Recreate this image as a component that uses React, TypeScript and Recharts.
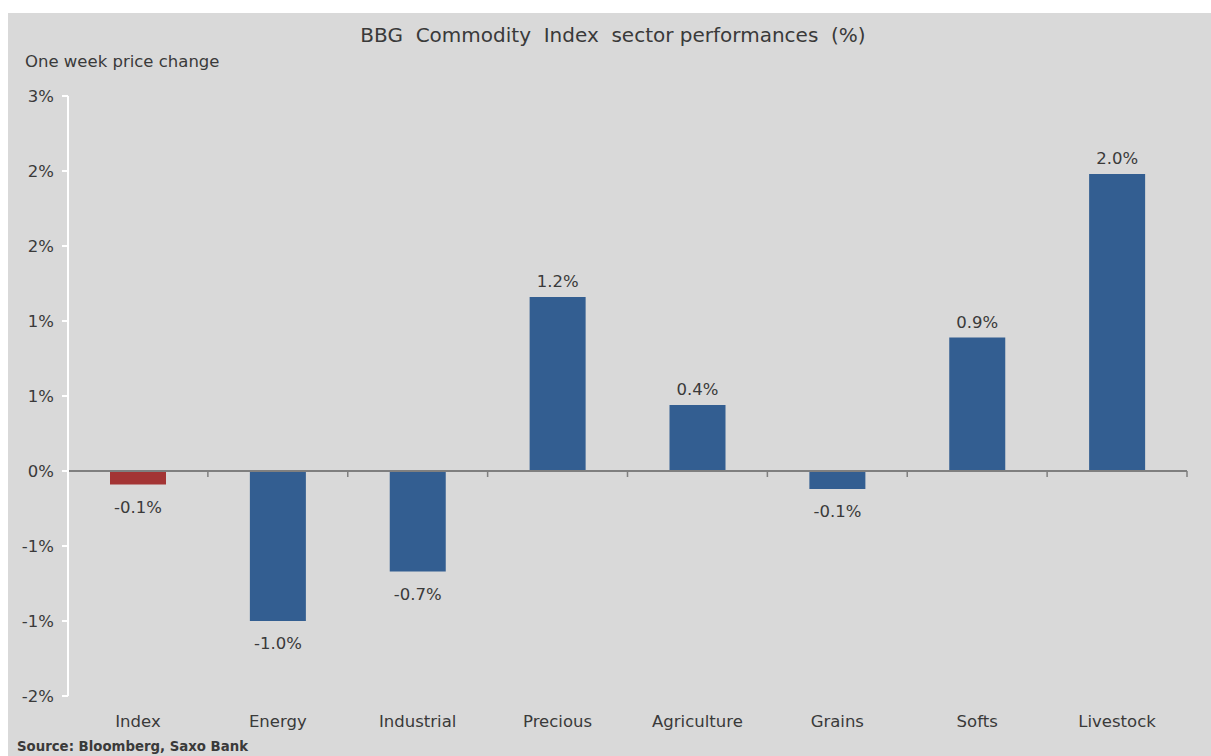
import { BarChart, Bar, XAxis, YAxis, ReferenceLine, Cell, LabelList } from 'recharts';

const sectors = ['Index', 'Energy', 'Industrial', 'Precious', 'Agriculture', 'Grains', 'Softs', 'Livestock'];
const weekChange = [-0.09, -1.0, -0.67, 1.16, 0.44, -0.12, 0.89, 1.98];
const yTicks = [-1.5, -1, -0.5, 0, 0.5, 1, 1.5, 2, 2.5];

const BLUE = '#335e91';
const RED = '#a33434';
const TEXT = '#3a3a3a';
const FONT = '"DejaVu Sans", Verdana, sans-serif';

const data = sectors.map((name, i) => ({ name, value: weekChange[i] }));

function BarLabel(props: any) {
  const { x, y, width, height, value } = props;
  const top = Math.min(y, y + height);
  const bottom = Math.max(y, y + height);
  const ty = value < 0 ? bottom + 28 : top - 10;
  return (
    <text x={x + width / 2} y={ty} textAnchor="middle" fontSize={16.5} fill={TEXT} fontFamily={FONT}>
      {`${value.toFixed(1)}%`}
    </text>
  );
}

// zero line with small tick marks between the categories
function ZeroLine(props: any) {
  const { x1, x2, y1 } = props;
  const step = (x2 - x1) / sectors.length;
  const marks = [];
  for (let i = 0; i <= sectors.length; i++) {
    const mx = x1 + step * i;
    marks.push(<line key={i} x1={mx} x2={mx} y1={y1} y2={y1 + 6} stroke="#7f7f7f" strokeWidth={1.5} />);
  }
  return (
    <g>
      <line x1={x1} x2={x2} y1={y1} y2={y1} stroke="#7f7f7f" strokeWidth={2} />
      {marks}
    </g>
  );
}

export default function App() {
  return (
    <div
      style={{
        position: 'fixed',
        left: 8,
        top: 13,
        width: 1203,
        height: 743,
        background: '#d9d9d9',
        fontFamily: FONT,
        color: TEXT,
      }}
    >
      <div style={{ position: 'absolute', left: 0, width: 1210, top: 10, textAlign: 'center', fontSize: 20, whiteSpace: 'pre' }}>
        {'BBG  Commodity  Index  sector performances  (%)'}
      </div>
      <div style={{ position: 'absolute', left: 17, top: 39, fontSize: 16.5 }}>One week price change</div>
      <div style={{ position: 'absolute', left: 9, top: 726, fontSize: 13.3, fontWeight: 'bold' }}>Source: Bloomberg, Saxo Bank</div>
      <BarChart width={1203} height={743} data={data} margin={{ top: 83, right: 24, left: 0, bottom: 30 }}>
        <XAxis
          dataKey="name"
          axisLine={false}
          tickLine={false}
          height={30}
          tick={{ fontSize: 16.5, fill: TEXT, fontFamily: FONT, dy: 11 }}
          interval={0}
        />
        <YAxis
          width={60}
          domain={[-1.5, 2.5]}
          ticks={yTicks}
          allowDataOverflow
          axisLine={{ stroke: '#ffffff', strokeWidth: 2 }}
          tickLine={{ stroke: '#ffffff', strokeWidth: 2 }}
          tickSize={6}
          tickMargin={8}
          tickFormatter={(v: number) => `${v.toFixed(0)}%`}
          tick={{ fontSize: 16.5, fill: TEXT, fontFamily: FONT }}
        />
        <Bar dataKey="value" barSize={56} isAnimationActive={false}>
          {data.map((d, i) => (
            <Cell key={d.name} fill={i === 0 ? RED : BLUE} />
          ))}
          <LabelList dataKey="value" content={BarLabel} />
        </Bar>
        <ReferenceLine y={0} shape={ZeroLine} />
      </BarChart>
    </div>
  );
}
